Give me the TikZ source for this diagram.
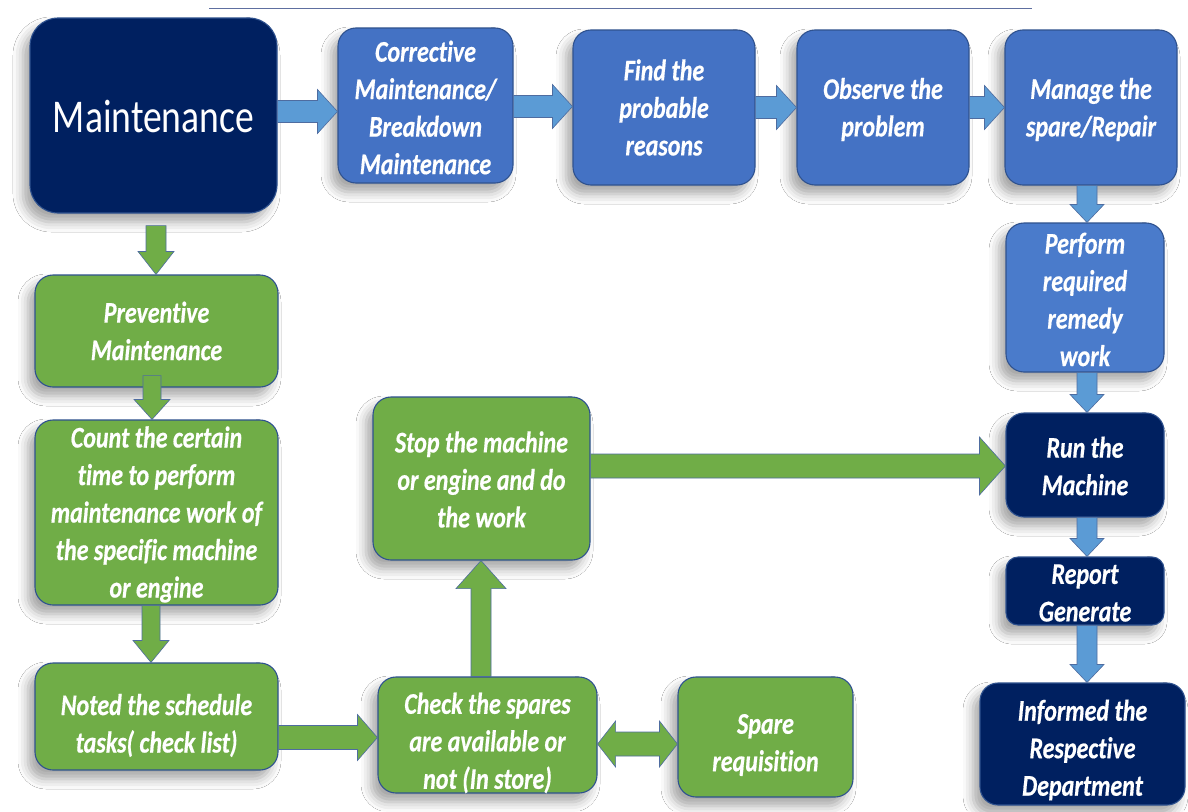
\documentclass[tikz,border=0pt]{standalone}
\usepackage{fontspec}
\usetikzlibrary{calc,shadows.blur}
\newfontfamily\lblfont[FakeStretch=0.8, Ligatures=NoCommon,
  BoldItalicFeatures={FakeBold=0.5}]{Carlito}

\definecolor{navy}{HTML}{002060}
\definecolor{midblue}{HTML}{4472C4}
\definecolor{softblue}{HTML}{4A7BCB}
\definecolor{arrowblue}{HTML}{5B9BD5}
\definecolor{leaf}{HTML}{70AD47}
\definecolor{edge}{HTML}{2F528F}
\definecolor{rulecol}{HTML}{5E6FA0}

\tikzset{
  box/.style={draw=edge, line width=1.1pt, rounded corners=18pt, inner sep=0pt,
    blur shadow={shadow xshift=-7pt, shadow yshift=-9pt,
      shadow blur radius=10pt, shadow opacity=35}},
  boxtext/.style={text=white, align=center, inner sep=0pt,
    font=\lblfont\bfseries\itshape\fontsize{30}{37.5}\selectfont},
  navybox/.style={box, fill=navy},
  bluebox/.style={box, fill=midblue},
  greenbox/.style={box, fill=leaf},
  bluearr/.style={fill=arrowblue, draw=edge!85, line width=0.6pt},
  greenarr/.style={fill=leaf, draw=edge!85, line width=0.6pt},
}

% box with its text: style, name, centre, drop of the text, text
\newcommand\flowbox[5]{%
  \node[#1, label={[boxtext, yshift=-#4pt]center:{#5}}] (#2) at (#3) {};}

% block arrow: style, tail, tip, half shaft width, half head width, head length
\newcommand\blockarrow[6]{%
  \coordinate (ba-t) at (#2);
  \coordinate (ba-p) at (#3);
  \coordinate (ba-h) at ($(ba-p)!#6pt!(ba-t)$);
  \draw[#1] ($(ba-t)!#4pt!90:(ba-p)$) -- ($(ba-h)!#4pt!90:(ba-p)$)
    -- ($(ba-h)!#5pt!90:(ba-p)$) -- (ba-p) -- ($(ba-h)!#5pt!-90:(ba-p)$)
    -- ($(ba-h)!#4pt!-90:(ba-p)$) -- ($(ba-t)!#4pt!-90:(ba-p)$) -- cycle;}

% two-headed block arrow, same arguments
\newcommand\twinarrow[6]{%
  \coordinate (ba-t) at (#2);
  \coordinate (ba-p) at (#3);
  \coordinate (ba-h) at ($(ba-p)!#6pt!(ba-t)$);
  \coordinate (ba-g) at ($(ba-t)!#6pt!(ba-p)$);
  \draw[#1] (ba-t) -- ($(ba-g)!#5pt!90:(ba-p)$) -- ($(ba-g)!#4pt!90:(ba-p)$)
    -- ($(ba-h)!#4pt!90:(ba-p)$) -- ($(ba-h)!#5pt!90:(ba-p)$) -- (ba-p)
    -- ($(ba-h)!#5pt!-90:(ba-p)$) -- ($(ba-h)!#4pt!-90:(ba-p)$)
    -- ($(ba-g)!#4pt!-90:(ba-p)$) -- ($(ba-g)!#5pt!-90:(ba-p)$) -- cycle;}

\begin{document}
\begin{tikzpicture}[x=1pt, y=-1pt]
\useasboundingbox[fill=white] (0,0) rectangle (1188,811);

% rule across the top
\coordinate (ruleL) at (209,8);
\coordinate (ruleR) at (1032,8);
\draw[rulecol, line width=1pt] (ruleL) -- (ruleR);

% corrective branch
\flowbox{navybox, rounded corners=28pt, minimum width=247pt, minimum height=195pt}
  {main}{153.5,115.5}{1}{\mdseries\upshape\fontsize{47}{50}\selectfont Maintenance}
\flowbox{bluebox, minimum width=175pt, minimum height=155pt}{corr}{425.5,105.5}{2}
  {Corrective\\Maintenance/\\Breakdown\\Maintenance}
\flowbox{bluebox, minimum width=182pt, minimum height=155pt}{find}{664,107.5}{0}
  {Find the\\probable\\reasons}
\flowbox{bluebox, minimum width=172pt, minimum height=155pt}{obs}{883,107.5}{2}
  {Observe the\\problem}
\flowbox{bluebox, minimum width=172pt, minimum height=155pt}{mng}{1091,107.5}{2}
  {Manage the\\spare/Repair}
\flowbox{box, fill=softblue, minimum width=158pt, minimum height=149pt}{perf}{1085,297.5}{2}
  {Perform\\required\\remedy\\work}
\flowbox{navybox, minimum width=158pt, minimum height=104pt}{run}{1085,465}{1}
  {Run the\\Machine}
\flowbox{navybox, rounded corners=12pt, minimum width=158pt, minimum height=68pt}{rep}{1085,591}{2}
  {Report\\Generate}
\flowbox{navybox, minimum width=205pt, minimum height=122pt}{inf}{1082.5,744}{6}
  {Informed the\\Respective\\Department}

% preventive branch
\flowbox{greenbox, minimum width=243pt, minimum height=112pt}{prev}{156.5,331}{0}
  {Preventive\\Maintenance}
\flowbox{greenbox, minimum width=243pt, minimum height=185pt}{count}{156.5,512.5}{2}
  {Count the certain\\time to perform\\maintenance work of\\the specific machine\\or engine}
\flowbox{greenbox, minimum width=243pt, minimum height=107pt}{noted}{156.5,716.5}{9}
  {Noted the schedule\\tasks( check list)}
\flowbox{greenbox, minimum width=217pt, minimum height=163pt}{stop}{481.5,478.5}{1}
  {Stop the machine\\or engine and do\\the work}
\flowbox{greenbox, minimum width=219pt, minimum height=116pt}{check}{487.5,735}{8}
  {Check the spares\\are available or\\not (In store)}
\flowbox{greenbox, minimum width=175pt, minimum height=120pt}{spare}{765.5,737}{8}
  {Spare\\requisition}

% connectors of the corrective branch
\coordinate (m-out) at ($(main.east)+(0,-4)$);
\blockarrow{bluearr}{m-out}{m-out -| corr.west}{11}{22}{20}
\coordinate (c-out) at ($(corr.east)+(0,1)$);
\blockarrow{bluearr}{c-out}{c-out -| find.west}{11}{22}{20}
\blockarrow{bluearr}{find.east}{find.east -| obs.west}{11}{22}{20}
\blockarrow{bluearr}{obs.east}{obs.east -| mng.west}{11}{22}{20}
\coordinate (p-in) at ($(perf.north)+(2,0)$);
\blockarrow{bluearr}{p-in |- mng.south}{p-in}{10}{17}{18}
\coordinate (r-in) at ($(run.north)+(2,0)$);
\blockarrow{bluearr}{r-in |- perf.south}{r-in}{10}{17}{18}
\coordinate (g-in) at ($(rep.north)+(2,0)$);
\blockarrow{bluearr}{g-in |- run.south}{g-in}{10}{17}{18}
\coordinate (g-out) at ($(rep.south)+(2,0)$);
\blockarrow{bluearr}{g-out}{g-out |- inf.north}{10}{17}{18}

% connectors of the preventive branch
\coordinate (m-down) at ($(main.south)+(2.5,12)$);
\blockarrow{greenarr}{m-down}{m-down |- prev.north}{10}{18}{23}
\coordinate (v-out) at ($(prev.south)+(-4.5,-12)$);
\blockarrow{greenarr}{v-out}{v-out |- count.north}{9}{18}{20}
\coordinate (k-out) at ($(count.south)+(-5.5,0)$);
\blockarrow{greenarr}{k-out}{k-out |- noted.north}{9}{18}{22}
\coordinate (n-out) at ($(noted.east)+(0,21)$);
\blockarrow{greenarr}{n-out}{n-out -| check.west}{12}{23}{20}
\coordinate (s-in) at ($(stop.south)+(-0.5,0)$);
\blockarrow{greenarr}{s-in |- check.north}{s-in}{10}{25}{28}
\coordinate (u-in) at ($(run.west)+(0,1)$);
\blockarrow{greenarr}{u-in -| stop.east}{u-in}{12}{29}{26}
\coordinate (q-out) at ($(check.east)+(0,9)$);
\twinarrow{greenarr}{q-out}{q-out -| spare.west}{12}{23}{18}
\end{tikzpicture}
\end{document}
